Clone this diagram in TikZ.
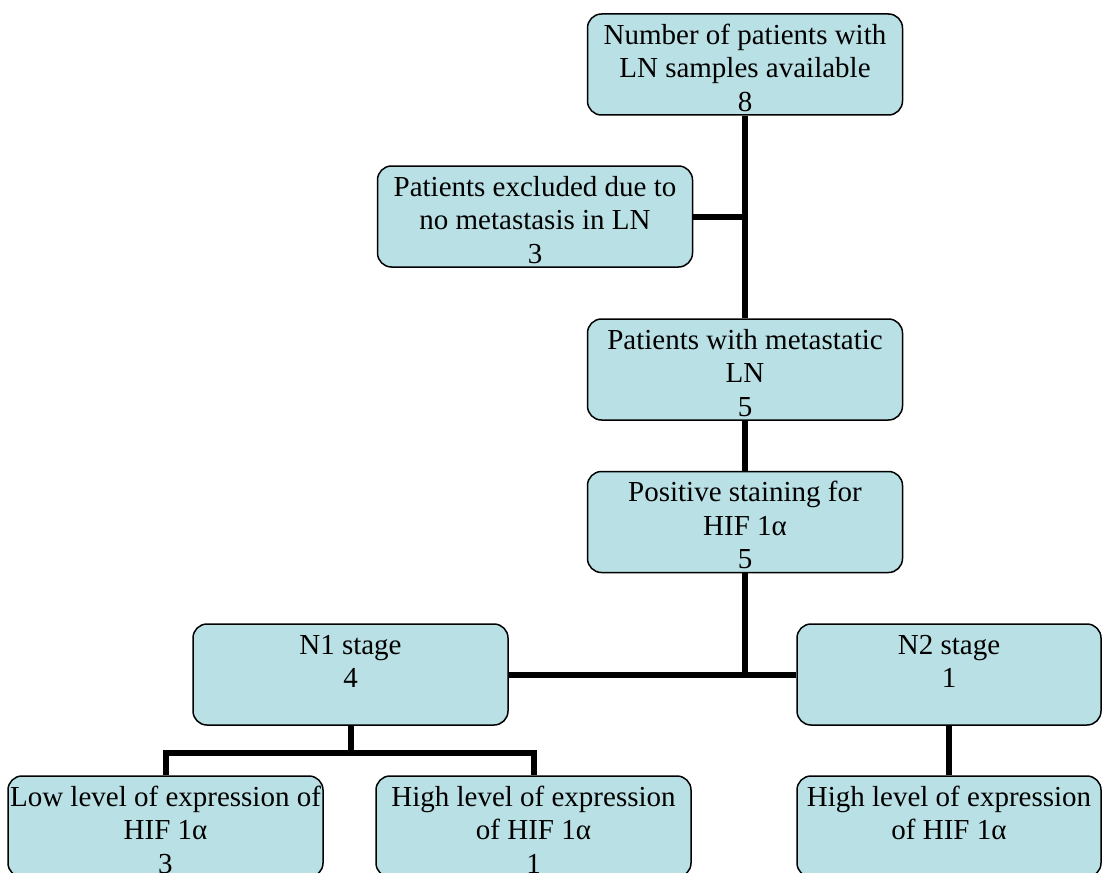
\documentclass[tikz,border=0pt]{standalone}
\usepackage{fontspec}
\setmainfont{Liberation Serif}
\usetikzlibrary{calc}
\definecolor{boxcyan}{RGB}{185,224,228}
\tikzset{
  flowbox/.style={
    draw=black,
    line width=1.5pt,
    fill=boxcyan,
    rounded corners=14pt,
    inner sep=0pt,
    minimum width=315pt,
    minimum height=101pt,
    font=\fontsize{29}{33.5}\selectfont
  },
  narrowbox/.style={flowbox, minimum width=304pt},
  link/.style={line width=6pt}
}
\newcommand{\boxlines}[2][313pt]{\parbox[c][87pt][t]{#1}{\centering\strut #2}}

\begin{document}
\begin{tikzpicture}[x=1pt, y=-1pt]
  \clip (0,0) rectangle (1102,872);

  % --- Main column ---
  \node[flowbox] (total) at (745,64.5) {\boxlines{Number of patients with\\LN samples available\\8}};
  \node[flowbox] (excluded) at (535,216.5) {\boxlines{Patients excluded due to\\no metastasis in LN\\3}};
  \node[flowbox] (metastatic) at (745,369.5) {\boxlines{Patients with metastatic\\LN\\5}};
  \node[flowbox] (positive) at (745,522) {\boxlines{Positive staining for\\HIF 1α\\5}};

  % --- Stages ---
  \node[flowbox] (nOne) at (350.5,674.5) {\boxlines{N1 stage\\4}};
  \node[narrowbox] (nTwo) at (949,674.5) {\boxlines[302pt]{N2 stage\\1}};

  % --- Expression levels ---
  \node[flowbox] (lowOne) at (165.5,826.5) {\boxlines{Low level of expression of\\HIF 1α\\3}};
  \node[flowbox] (highOne) at (533.5,826.5) {\boxlines{High level of expression\\of HIF 1α\\1}};
  \node[narrowbox] (highTwo) at (949,826.5) {\boxlines[302pt]{High level of expression\\of HIF 1α}};

  % --- Connectors ---
  \draw[link] (total.south) -- (metastatic.north);
  \draw[link] (excluded.east) -- (excluded.east -| total.south);
  \draw[link] (metastatic.south) -- (positive.north);
  \draw[link] (positive.south) -- (positive.south |- nOne.east);
  \draw[link] (nOne.east) -- (nTwo.west);

  \coordinate (nOneSplit) at ($(nOne.south)+(0,27)$);
  \draw[link] (nOne.south) -- (nOneSplit);
  \draw[link] (lowOne.north) |- (nOneSplit) -| (highOne.north);
  \draw[link] (nTwo.south) -- (highTwo.north);
\end{tikzpicture}
\end{document}
